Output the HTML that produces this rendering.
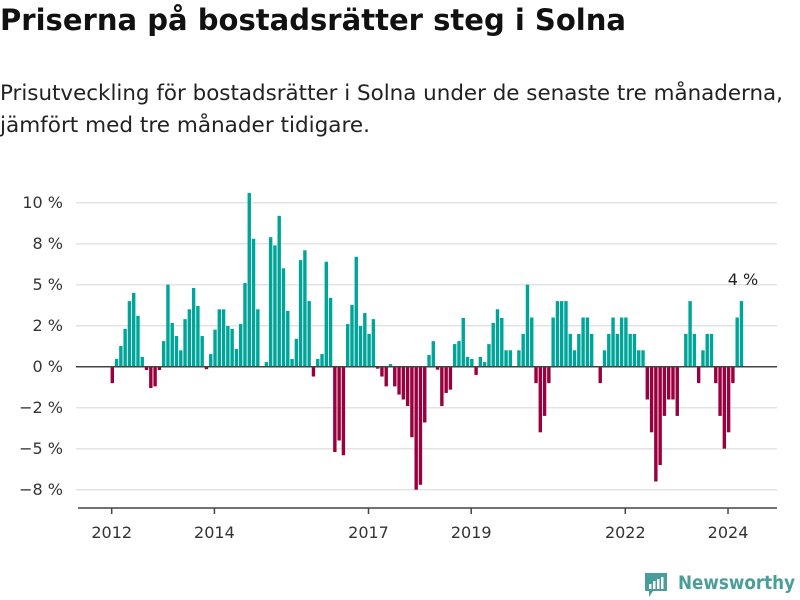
<!DOCTYPE html>
<html><head><meta charset="utf-8"><style>
html,body{margin:0;padding:0;background:#fff;width:800px;height:600px;overflow:hidden;font-family:"Liberation Sans","DejaVu Sans",sans-serif;}
</style></head><body>
<svg id="chart" width="800" height="600" xmlns="http://www.w3.org/2000/svg">
<text x="0" y="30" font-size="29" font-weight="bold" fill="#111" font-family="DejaVu Sans, sans-serif" textLength="626" lengthAdjust="spacingAndGlyphs">Priserna på bostadsrätter steg i Solna</text>
<text x="0" y="100" font-size="21" fill="#222" font-family="DejaVu Sans, sans-serif" textLength="783" lengthAdjust="spacingAndGlyphs">Prisutveckling för bostadsrätter i Solna under de senaste tre månaderna,</text>
<text x="0" y="132" font-size="21" fill="#222" font-family="DejaVu Sans, sans-serif" textLength="370" lengthAdjust="spacingAndGlyphs">jämfört med tre månader tidigare.</text>
<g id="grid"></g><g id="bars"></g><g id="axes"></g>
<text x="743" y="285" font-size="16" fill="#222" text-anchor="middle" font-family="DejaVu Sans, sans-serif">4 %</text>
<g>
<path d="M645 573 h22 v18 h-14 l-4 6 v-6 h-4 z" fill="#4a9e99"/>
<rect x="649" y="584" width="2.5" height="5" fill="#fff"/><rect x="653" y="581" width="2.5" height="8" fill="#fff"/><rect x="657" y="579" width="2.5" height="10" fill="#fff"/><rect x="661" y="577" width="2.5" height="12" fill="#fff"/>
<text x="678" y="589" font-size="19" font-weight="bold" fill="#4a9e99" font-family="DejaVu Sans, sans-serif" textLength="117" lengthAdjust="spacingAndGlyphs">Newsworthy</text>
</g>
</svg>
<script>
const startYear = 2012;
const values = [-1.0,0.47,1.26,2.3,4.0,4.5,3.1,0.6,-0.2,-1.3,-1.2,-0.2,
1.56,5.0,2.67,1.87,1.0,2.9,3.5,4.8,3.7,1.87,-0.15,0.77,
2.26,3.5,3.5,2.48,2.3,1.08,2.6,5.1,10.6,7.8,3.5,0,
0.28,7.9,7.4,9.2,6.0,3.4,0.47,1.7,6.5,7.1,4.0,-0.6,
0.47,0.77,6.4,4.2,-5.2,-4.5,-5.4,2.6,3.76,6.7,2.48,3.27,
2.0,2.9,-0.12,-0.6,-1.2,0.16,-1.2,-1.7,-2.0,-2.4,-4.3,-7.5,
-7.2,-3.4,0.71,1.56,-0.18,-2.4,-1.6,-1.4,1.38,1.56,2.97,0.6,
0.47,-0.5,0.6,0.28,1.38,2.67,3.5,2.97,1.0,1.0,0,1.0,
2.0,5.0,3.0,-1.0,-4.0,-3.0,-1.0,3.0,4.0,4.0,4.0,2.0,
1.0,2.0,3.0,3.0,2.0,0,-1.0,1.0,2.0,3.0,2.0,3.0,
3.0,2.0,2.0,1.0,1.0,-2.0,-4.0,-7.0,-6.0,-3.0,-2.0,-2.0,
-3.0,0,2.0,4.0,2.0,-1.0,1.0,2.0,2.0,-1.0,-3.0,-5.0,
-4.0,-1.0,3.0,4.0];
const yTicks = [10,7.5,5,2.5,0,-2.5,-5,-7.5];
const yTickLabels = ["10 %","8 %","5 %","2 %","0 %","−2 %","−5 %","−8 %"];
const xTickYears = [2012,2014,2017,2019,2022,2024];

const NS="http://www.w3.org/2000/svg";
function y(v){return 366.7 - v*16.4;}
function x(i){return 112.3 + i*4.28;}
function yearX(yr){return x((yr-startYear)*12) - 0.6;}
function mk(tag,attrs,parent){const e=document.createElementNS(NS,tag);for(const k in attrs)e.setAttribute(k,attrs[k]);parent.appendChild(e);return e;}
const grid=document.getElementById('grid'),bars=document.getElementById('bars'),axes=document.getElementById('axes');
yTicks.forEach((t,k)=>{
  if(t!==0){const l=mk('line',{x1:76,x2:777,y1:y(t),y2:y(t),stroke:'#e3e3e3','stroke-width':1.5},grid);
  
  }
  const tx=mk('text',{x:63,y:y(t)+5.5,'font-size':16,fill:'#333','text-anchor':'end','font-family':'DejaVu Sans, sans-serif'},axes);
  tx.textContent=yTickLabels[k];
  
  
});
values.forEach((v,i)=>{
  if(v===0)return;
  const top=Math.min(y(v),y(0)),h=Math.abs(y(v)-y(0));
  const r=mk('rect',{x:x(i)-1.7,y:top,width:3.4,height:h,fill:v>0?'#00a59a':'#99003d'},bars);
  
  
});
const z=mk('line',{x1:76,x2:777,y1:y(0),y2:y(0),stroke:'#444','stroke-width':1.5},axes);


const xa=mk('line',{x1:78,x2:777,y1:508,y2:508,stroke:'#444','stroke-width':1.5},axes);


xTickYears.forEach(yr=>{
  const t=mk('line',{x1:yearX(yr),x2:yearX(yr),y1:508,y2:514,stroke:'#444','stroke-width':1.5},axes);
  
  
  const tx=mk('text',{x:yearX(yr),y:538,'font-size':16,fill:'#333','text-anchor':'middle','font-family':'DejaVu Sans, sans-serif'},axes);
  tx.textContent=yr;
  
  
});
</script>
</body></html>
